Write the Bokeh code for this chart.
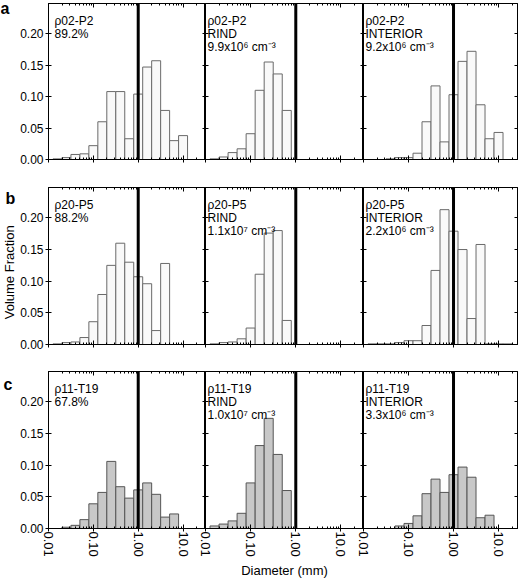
import math
from bokeh.plotting import figure
from bokeh.layouts import row, column
from bokeh.models import (Range1d, LogAxis, LinearAxis, FixedTicker, Span, Label,
                          PrintfTickFormatter, ColumnDataSource)
from bokeh.embed import file_html
from bokeh.resources import INLINE

# ---- bins: diameter (mm), 0.2-decade logarithmic bins ----
bin_left = [0.01259, 0.01995, 0.03162, 0.05012, 0.07943, 0.1259, 0.1995, 0.3162,
            0.5012, 0.7943, 1.259, 1.995, 3.162, 5.012, 7.943, 12.59]
bin_right = [0.01995, 0.03162, 0.05012, 0.07943, 0.1259, 0.1995, 0.3162, 0.5012,
             0.7943, 1.259, 1.995, 3.162, 5.012, 7.943, 12.59, 19.95]

# ---- volume fractions per bin ----
a_total    = [0.001, 0.003, 0.008, 0.009, 0.022, 0.060, 0.108, 0.108, 0.033, 0.104, 0.147, 0.157, 0.078, 0.030, 0.038, 0.0]
a_rind     = [0.001, 0.004, 0.011, 0.017, 0.041, 0.110, 0.155, 0.136, 0.078, 0.0, 0.0, 0.0, 0.0, 0.0, 0.0, 0.0]
a_interior = [0.0, 0.0, 0.001, 0.003, 0.003, 0.010, 0.060, 0.117, 0.028, 0.103, 0.156, 0.172, 0.087, 0.033, 0.043, 0.0]

b_total    = [0.001, 0.003, 0.004, 0.011, 0.036, 0.079, 0.125, 0.160, 0.130, 0.107, 0.096, 0.022, 0.128, 0.0, 0.0, 0.0]
b_rind     = [0.001, 0.003, 0.004, 0.009, 0.026, 0.111, 0.176, 0.180, 0.038, 0.0, 0.0, 0.0, 0.0, 0.0, 0.0, 0.0]
b_interior = [0.001, 0.001, 0.001, 0.003, 0.006, 0.006, 0.030, 0.117, 0.213, 0.179, 0.150, 0.041, 0.158, 0.001, 0.001, 0.001]

c_total    = [0.0, 0.002, 0.005, 0.014, 0.039, 0.057, 0.106, 0.066, 0.048, 0.061, 0.072, 0.054, 0.018, 0.023, 0.0, 0.0]
c_rind     = [0.004, 0.007, 0.012, 0.024, 0.072, 0.131, 0.174, 0.117, 0.060, 0.0, 0.0, 0.0, 0.0, 0.0, 0.0, 0.0]
c_interior = [0.0, 0.0, 0.0, 0.004, 0.008, 0.020, 0.055, 0.078, 0.057, 0.085, 0.097, 0.081, 0.017, 0.021, 0.0, 0.0]

# ---- panel texts ----
a_texts = ["ρ02-P2\n89.2%", "ρ02-P2\nRIND\n9.9x10⁶ cm⁻³", "ρ02-P2\nINTERIOR\n9.2x10⁶ cm⁻³"]
b_texts = ["ρ20-P5\n88.2%", "ρ20-P5\nRIND\n1.1x10⁷ cm⁻³", "ρ20-P5\nINTERIOR\n2.2x10⁶ cm⁻³"]
c_texts = ["ρ11-T19\n67.8%", "ρ11-T19\nRIND\n1.0x10⁷ cm⁻³", "ρ11-T19\nINTERIOR\n3.3x10⁶ cm⁻³"]
row_letters = ["a", "b", "c"]
y_title = "Volume Fraction"
x_title = "Diameter (mm)"

# ---- ticks ----
x_ticks = [0.01, 0.1, 1.0, 10.0]
x_tick_labels = ["0.01", "0.10", "1.00", "10.0"]
x_minor = [m * d for d in [0.01, 0.1, 1.0, 10.0] for m in range(2, 10)]
y_ticks = [0.0, 0.05, 0.10, 0.15, 0.20]

# ---- layout constants ----
FONT = "Liberation Sans"
LETTER_W = 17
COL1_LEFT = 30
OVERLAP = 8
FRAME_W = [157, 158, 154]
X_MAX = [31.62, 31.62, 26.4]
ROW_FRAME_H = [156, 157, 157]
ROW_TOP = [3, 1, 9]
ROW_BOTTOM = [27, 18, 50]
LETTER_XY = [(0, 5.0), (5, 10.7), (3, 13.0)]   # x from left, depth below row top
TEXT_X = [6, 2, 2]
Y_MAX = 0.248


def style_x_axis(ax, show_labels, tick_out):
    ax.ticker = FixedTicker(ticks=x_ticks, minor_ticks=x_minor)
    ax.major_tick_in = 4
    ax.major_tick_out = tick_out
    ax.minor_tick_in = 2
    ax.minor_tick_out = 0
    ax.axis_line_color = "black"
    ax.major_tick_line_color = "black"
    ax.minor_tick_line_color = "black"
    if show_labels:
        ax.major_label_overrides = dict(zip(x_ticks, x_tick_labels))
        ax.major_label_orientation = "vertical"
        ax.major_label_standoff = 0
        ax.major_label_text_font = FONT
        ax.major_label_text_font_size = "13px"
        ax.major_label_text_color = "black"
    else:
        ax.major_label_text_color = None


def style_y_axis(ax, show_labels, tick_in, tick_out):
    ax.ticker = FixedTicker(ticks=y_ticks)
    ax.major_tick_in = tick_in
    ax.major_tick_out = tick_out
    ax.minor_tick_line_color = None
    ax.axis_line_color = "black"
    ax.major_tick_line_color = "black"
    if show_labels:
        ax.formatter = PrintfTickFormatter(format="%.2f")
        ax.major_label_standoff = 2
        ax.major_label_text_font = FONT
        ax.major_label_text_font_size = "12px"
        ax.major_label_text_color = "black"
    else:
        ax.major_label_text_color = None


def make_letter_panel(r):
    total_h = ROW_TOP[r] + ROW_FRAME_H[r] + ROW_BOTTOM[r]
    p = figure(x_range=Range1d(0, 1), y_range=Range1d(0, 1),
               frame_width=LETTER_W, frame_height=total_h,
               min_border_left=0, min_border_right=0,
               min_border_top=0, min_border_bottom=0,
               x_axis_location=None, y_axis_location=None,
               output_backend="svg", toolbar_location=None,
               outline_line_color=None, background_fill_color="white",
               border_fill_color="white")
    p.grid.visible = False
    lx, depth = LETTER_XY[r]
    p.add_layout(Label(x=lx, y=total_h - depth, x_units="screen", y_units="screen",
                       text=row_letters[r], text_font=FONT, text_font_size="16px",
                       text_font_style="bold", text_align="left",
                       text_baseline="alphabetic", text_color="black"))
    if r == 1:
        p.add_layout(Label(x=9, y=ROW_BOTTOM[r] + 73.2, x_units="screen", y_units="screen",
                           text=y_title, angle=math.pi / 2,
                           text_font=FONT, text_font_size="13px",
                           text_align="center", text_baseline="middle",
                           text_color="black"))
    return p


def make_panel(r, c, vals, text):
    last_row = (r == 2)
    fh = ROW_FRAME_H[r]
    p = figure(x_axis_type="log", x_range=Range1d(0.01, X_MAX[c]), y_range=Range1d(0, Y_MAX),
               frame_width=FRAME_W[c], frame_height=fh,
               min_border_left=COL1_LEFT if c == 0 else OVERLAP,
               min_border_right=1 if c == 2 else 0,
               min_border_top=ROW_TOP[r],
               min_border_bottom=ROW_BOTTOM[r],
               margin=(0, 0, 0, 0 if c == 0 else -OVERLAP),
               output_backend="svg", toolbar_location=None,
               background_fill_color="white",
               border_fill_color="white" if c == 0 else None,
               outline_line_color="black")
    p.grid.visible = False

    keep = [i for i, v in enumerate(vals) if v > 0]
    src = ColumnDataSource(dict(left=[bin_left[i] for i in keep],
                                right=[bin_right[i] for i in keep],
                                top=[vals[i] for i in keep]))
    if last_row:
        fill, edge = "#c8c8c8", "#555555"
    else:
        fill, edge = "#f9f9f9", "#6a6a6a"
    p.quad(left="left", right="right", bottom=0, top="top", source=src,
           fill_color=fill, line_color=edge, line_width=1)

    p.add_layout(Span(location=1.0, dimension="height", line_color="black", line_width=3))

    style_x_axis(p.xaxis[0], last_row, 3)
    style_y_axis(p.yaxis[0], c == 0, 3, 3 if c == 0 else 0)
    if last_row and c == 1:
        ax = p.xaxis[0]
        ax.axis_label = x_title
        ax.axis_label_standoff = 3
        ax.axis_label_text_font = FONT
        ax.axis_label_text_font_size = "13px"
        ax.axis_label_text_font_style = "normal"
        ax.axis_label_text_color = "black"

    top = LogAxis()
    style_x_axis(top, False, 0)
    p.add_layout(top, "above")
    right = LinearAxis()
    style_y_axis(right, False, 3, 0)
    p.add_layout(right, "right")

    p.add_layout(Label(x=TEXT_X[c], y=fh - 10, x_units="screen", y_units="screen",
                       text=text, text_font=FONT, text_font_size="12px",
                       text_baseline="top", text_align="left", text_line_height=0.95,
                       text_color="black"))
    return p


rows_data = [(a_total, a_rind, a_interior, a_texts),
             (b_total, b_rind, b_interior, b_texts),
             (c_total, c_rind, c_interior, c_texts)]

row_layouts = []
for r, (t, rd, it, texts) in enumerate(rows_data):
    row_layouts.append(row(make_letter_panel(r),
                           make_panel(r, 0, t, texts[0]),
                           make_panel(r, 1, rd, texts[1]),
                           make_panel(r, 2, it, texts[2])))

layout = column(*row_layouts)

open("out.html", "w").write(file_html(layout, INLINE))
